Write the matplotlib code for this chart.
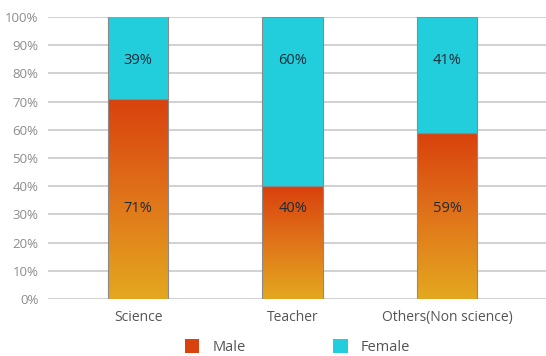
import numpy as np
import matplotlib
matplotlib.use("Agg")
import matplotlib.pyplot as plt
from matplotlib.colors import LinearSegmentedColormap
from matplotlib.patches import Patch, Rectangle

plt.rcParams['font.family'] = ['Open Sans', 'DejaVu Sans']

categories = ["Science", "Teacher", "Others(Non science)"]
male = [71, 40, 59]
female = [39, 60, 41]
yticks = [0, 10, 20, 30, 40, 50, 60, 70, 80, 90, 100]

male_top = "#d9410d"
male_mid = "#e0741a"
male_bottom = "#e4a81f"
female_color = "#22cedc"
edge = "#8a8a8a"
text_dark = "#1c2b38"

fig = plt.figure(figsize=(5.46, 3.56), dpi=100)
ax = fig.add_axes([0.088, 0.160, 0.912, 0.792])

x = np.arange(len(categories))
width = 0.39
grad = LinearSegmentedColormap.from_list("male_grad", [male_bottom, male_mid, male_top])
g = np.linspace(0, 1, 256).reshape(-1, 1)

ax.set_axisbelow(True)
ax.yaxis.grid(True, color="#c9c9c9", linewidth=1.2)

for xi, m, f in zip(x, male, female):
    # gradient-filled male segment
    ax.imshow(g, cmap=grad, origin="lower", aspect="auto",
              extent=[xi - width / 2, xi + width / 2, 0, m], zorder=2)
    ax.add_patch(Rectangle((xi - width / 2, 0), width, m, fill=False,
                           edgecolor=edge, linewidth=0.8, zorder=3))
    # female segment stacked on top
    ax.bar(xi, f, width, bottom=m, color=female_color, edgecolor=edge,
           linewidth=0.8, zorder=2)
    ax.text(xi, 32, f"{m}%", ha="center", va="center", fontsize=10.5,
            color=text_dark, fontweight="medium", zorder=4)
    ax.text(xi, 84.5, f"{f}%", ha="center", va="center", fontsize=10.5,
            color=text_dark, fontweight="medium", zorder=4)

ax.set_xlim(-0.583, 2.64)
ax.set_ylim(0, 100)
ax.set_yticks(yticks)
ax.set_yticklabels([f"{t}%" for t in yticks])
ax.set_xticks(x)
ax.set_xticklabels(categories)
ax.tick_params(axis="y", length=0, pad=7, labelsize=9.5, labelcolor="#8c8c8c")
ax.tick_params(axis="x", length=0, pad=8, labelsize=10, labelcolor="#555555")
for s in ax.spines.values():
    s.set_visible(False)

handles = [Patch(facecolor=male_top, edgecolor="none", label="Male"),
           Patch(facecolor=female_color, edgecolor="none", label="Female")]
fig.legend(handles=handles, loc="lower center", bbox_to_anchor=(0.545, -0.035),
           ncol=2, frameon=False, fontsize=10.5, handlelength=1.0,
           handleheight=1.1, handletextpad=0.9, columnspacing=6.0,
           labelcolor="#555555")

fig.savefig("out.png", dpi=100)
